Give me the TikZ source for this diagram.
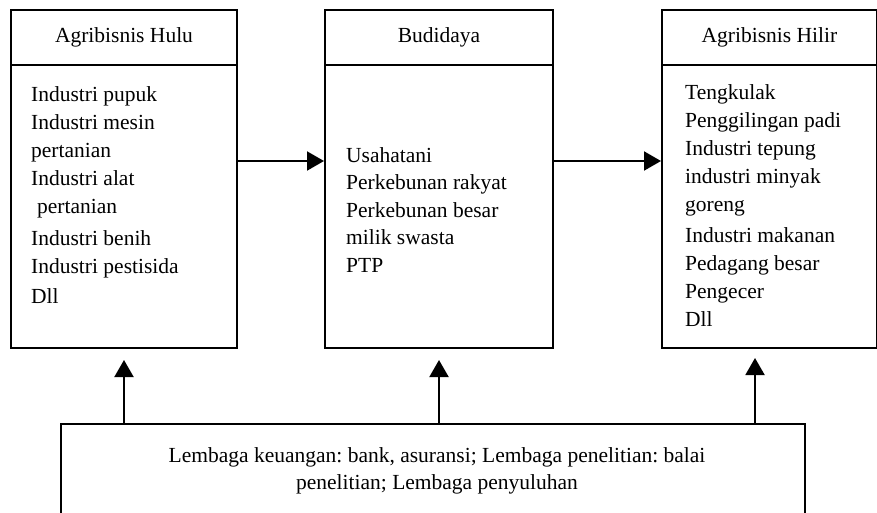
\documentclass[tikz,border=0pt]{standalone}
\usepackage{fontspec}
\setmainfont{Liberation Serif}
\usetikzlibrary{arrows.meta}
\frenchspacing
\begin{document}
\begin{tikzpicture}[x=1pt,y=-1pt,
  frame/.style={draw, line width=2pt, rectangle, inner sep=0pt, anchor=north west,
                font=\fontsize{21.5}{28}\selectfont},
  arr/.style={line width=2pt, -{Triangle[length=17pt,width=19pt]}},
  txt/.style={inner sep=0pt, anchor=base west, font=\fontsize{21.5}{28}\selectfont}]
\useasboundingbox (0,0) rectangle (877,512);
\clip (0,0) rectangle (877,512);

% upstream box
\node[frame, minimum width=226pt, minimum height=55pt] (huluhead) at (10,9) {Agribisnis Hulu};
\node[frame, minimum width=226pt, minimum height=283pt] (hulubody) at (10,64) {};
\node[txt] (hulutext) at (31,101) {\begin{tabular}[t]{@{}l@{}}
Industri pupuk\\
Industri mesin\\
pertanian\\
Industri alat\\
\hspace{6pt}pertanian\\[4pt]
Industri benih\\
Industri pestisida\\[2pt]
Dll
\end{tabular}};

% cultivation box
\node[frame, minimum width=228pt, minimum height=55pt] (budihead) at (324,9) {Budidaya};
\node[frame, minimum width=228pt, minimum height=283pt] (budibody) at (324,64) {};
\node[txt, font=\fontsize{21.5}{27.5}\selectfont] (buditext) at (346,162) {\begin{tabular}[t]{@{}l@{}}
Usahatani\\
Perkebunan rakyat\\
Perkebunan besar\\
milik swasta\\
PTP
\end{tabular}};

% downstream box
\node[frame, minimum width=215pt, minimum height=55pt] (hilirhead) at (661,9) {Agribisnis Hilir};
\node[frame, minimum width=215pt, minimum height=283pt] (hilirbody) at (661,64) {};
\node[txt] (hilirtext) at (685,99) {\begin{tabular}[t]{@{}l@{}}
Tengkulak\\
Penggilingan padi\\
Industri tepung\\
industri minyak\\
goreng\\[3pt]
Industri makanan\\
Pedagang besar\\
Pengecer\\
Dll
\end{tabular}};

% supporting institutions
\node[frame, minimum width=744pt, minimum height=120pt] (support) at (60,423) {};
\node[inner sep=0pt, anchor=base, font=\fontsize{21.5}{27}\selectfont] (supporttext) at (437,462)
  {\begin{tabular}[t]{@{}c@{}}
Lembaga keuangan: bank, asuransi; Lembaga penelitian: balai\\
penelitian; Lembaga penyuluhan
\end{tabular}};

% flow along the chain
\coordinate (flow) at (0,161);
\draw[arr] (hulubody.east |- flow) -- (budibody.west |- flow);
\draw[arr] (budibody.east |- flow) -- (hilirbody.west |- flow);

% support arrows
\coordinate (tipc) at (755,358);
\draw[arr] (support.north -| hulubody.south) -- ([yshift=-11pt]hulubody.south);
\draw[arr] (support.north -| budibody.south) -- ([yshift=-11pt]budibody.south);
\draw[arr] (support.north -| tipc) -- (tipc);
\end{tikzpicture}
\end{document}
